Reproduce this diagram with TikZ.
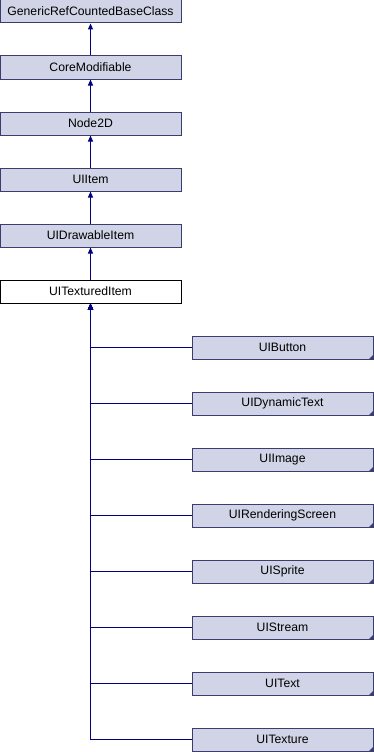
\documentclass[tikz,border=0pt]{standalone}
\usepackage{fontspec}
\setmainfont{Liberation Sans}
\usetikzlibrary{arrows.meta}
\definecolor{boxfill}{RGB}{208,212,230}
\definecolor{boxline}{RGB}{60,60,110}
\definecolor{edgeblue}{RGB}{0,0,128}
\tikzset{
  cls/.style={draw=boxline, fill=boxfill, line width=1pt, minimum width=181pt,
    minimum height=23pt, inner sep=0pt, font=\fontsize{12.2}{14}\selectfont},
  current/.style={cls, draw=black, fill=white},
  edge/.style={draw=edgeblue, line width=1pt,
    -{Triangle[length=6pt,width=5pt]}},
}
% small corner mark for classes whose subclasses are not shown
\newcommand{\moremark}[1]{%
  \fill[boxline] (#1.south east) -- ++(-5pt,0) -- ++(5pt,5pt) -- cycle;}
\begin{document}
\begin{tikzpicture}[x=1pt,y=-1pt]
  \useasboundingbox (0,0) rectangle (374,752);

  % inheritance chain
  \node[cls] (base) at (90.5,11.5) {GenericRefCountedBaseClass};
  \node[cls] (core) at (90.5,67.5) {CoreModifiable};
  \node[cls] (node2d) at (90.5,123.5) {Node2D};
  \node[cls] (uiitem) at (90.5,179.5) {UIItem};
  \node[cls] (drawable) at (90.5,235.5) {UIDrawableItem};
  \node[current] (textured) at (90.5,291.5) {UITexturedItem};

  \draw[edge] (core.north) -- (base.south);
  \draw[edge] (node2d.north) -- (core.south);
  \draw[edge] (uiitem.north) -- (node2d.south);
  \draw[edge] (drawable.north) -- (uiitem.south);
  \draw[edge] (textured.north) -- (drawable.south);

  % derived classes
  \foreach \name/\label [count=\i from 0] in {
      button/UIButton, dyntext/UIDynamicText, image/UIImage,
      rscreen/UIRenderingScreen, sprite/UISprite, stream/UIStream,
      text/UIText, texture/UITexture} {
    \node[cls] (\name) at (282.5,347.5+56*\i) {\label};
    \moremark{\name}
    \draw[edge] (\name.west) -| (textured.south);
  }
\end{tikzpicture}
\end{document}
